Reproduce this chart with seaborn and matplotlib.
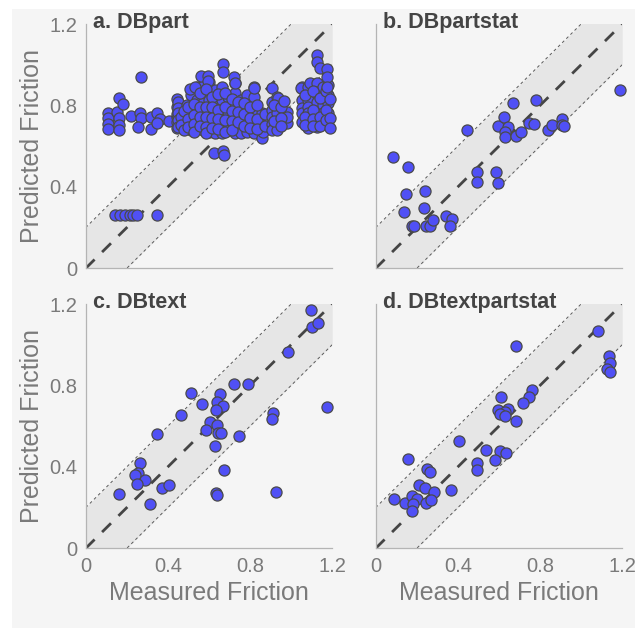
import numpy as np
import pandas as pd
import matplotlib
matplotlib.use("Agg")
import matplotlib.pyplot as plt
import seaborn as sns
from matplotlib.patches import Rectangle

# ---- panel a: DBpart (measured, predicted)
part_measured = [
    0.143, 0.167, 0.192, 0.216, 0.232, 0.252, 0.346,
    0.110, 0.110, 0.110, 0.110, 0.151, 0.164, 0.164, 0.164, 0.164, 0.183,
    0.221, 0.264, 0.267, 0.253, 0.268, 0.318, 0.318, 0.346, 0.362, 0.346, 0.407,
    0.446, 0.446, 0.446, 0.446, 0.446, 0.446,
    0.451, 0.451, 0.451, 0.451, 0.451,
    0.492, 0.492, 0.492,
    0.512, 0.512, 0.512, 0.512,
    0.540, 0.540, 0.540, 0.540, 0.540,
    0.573, 0.573, 0.573, 0.573, 0.573, 0.573,
    0.602, 0.602, 0.602, 0.602, 0.602, 0.602,
    0.630, 0.630, 0.630, 0.630, 0.630,
    0.662, 0.662, 0.662, 0.662, 0.662,
    0.695, 0.695, 0.695, 0.695, 0.695, 0.695,
    0.727, 0.727, 0.727, 0.727, 0.727, 0.727,
    0.755, 0.755, 0.755, 0.755, 0.755,
    0.784, 0.784, 0.784, 0.784,
    0.821, 0.821, 0.821, 0.821, 0.821,
    0.857, 0.857, 0.857, 0.862,
    0.627, 0.670, 0.674,
    0.670, 0.667, 0.562, 0.597, 0.597, 0.724, 0.727, 0.508, 0.532, 0.817,
    0.465, 0.465, 0.478, 0.478, 0.500, 0.500, 0.500,
    0.525, 0.525, 0.525, 0.525, 0.555, 0.555, 0.555, 0.555,
    0.588, 0.588, 0.588, 0.588, 0.588, 0.615, 0.615, 0.615, 0.615,
    0.645, 0.645, 0.645, 0.645, 0.680, 0.680, 0.680, 0.680,
    0.712, 0.712, 0.712, 0.712, 0.740, 0.740, 0.740,
    0.770, 0.770, 0.770, 0.800, 0.800, 0.800,
    0.835, 0.835, 0.835, 0.875, 0.875,
    0.906, 0.906, 0.906, 0.906, 0.906, 0.906,
    0.929, 0.929, 0.929, 0.929, 0.929, 0.938,
    0.979, 0.979, 0.979,
    0.915, 0.915, 0.950, 0.950, 0.950, 0.965,
    1.052, 1.052, 1.052, 1.052, 1.052, 1.047,
    1.084, 1.084, 1.084, 1.084, 1.084, 1.084, 1.093,
    1.125, 1.125, 1.125, 1.125, 1.125, 1.125, 1.128,
    1.157, 1.157, 1.157, 1.157, 1.157,
    1.181, 1.181, 1.181, 1.181, 1.181,
    1.068, 1.068, 1.068, 1.105, 1.105, 1.105, 1.105,
    1.140, 1.140, 1.140, 1.170, 1.170, 1.170, 1.190, 1.190, 1.190,
    1.128, 1.128, 1.141, 1.174, 1.177, 1.177,
]
part_predicted = [
    0.262, 0.262, 0.262, 0.262, 0.262, 0.262, 0.262,
    0.764, 0.737, 0.709, 0.685, 0.769, 0.835, 0.737, 0.704, 0.680, 0.806,
    0.750, 0.761, 0.737, 0.696, 0.941, 0.742, 0.683, 0.761, 0.732, 0.716, 0.723,
    0.830, 0.794, 0.745, 0.687, 0.760, 0.720,
    0.818, 0.786, 0.761, 0.728, 0.695,
    0.802, 0.753, 0.720,
    0.851, 0.761, 0.712, 0.679,
    0.889, 0.827, 0.777, 0.737, 0.688,
    0.897, 0.851, 0.810, 0.769, 0.728, 0.679,
    0.917, 0.860, 0.827, 0.769, 0.720, 0.671,
    0.876, 0.802, 0.761, 0.712, 0.663,
    0.892, 0.827, 0.761, 0.704, 0.663,
    0.843, 0.794, 0.745, 0.712, 0.680, 0.766,
    0.909, 0.860, 0.802, 0.745, 0.696, 0.663,
    0.827, 0.777, 0.737, 0.696, 0.667,
    0.851, 0.794, 0.720, 0.671,
    0.892, 0.843, 0.769, 0.712, 0.663,
    0.761, 0.704, 0.639, 0.671,
    0.565, 0.578, 0.556,
    1.002, 0.962, 0.946, 0.946, 0.920, 0.941, 0.908, 0.881, 0.892, 0.887,
    0.745, 0.705, 0.775, 0.680, 0.735, 0.790, 0.695,
    0.805, 0.755, 0.710, 0.670, 0.860, 0.790, 0.745, 0.700,
    0.880, 0.790, 0.745, 0.695, 0.665, 0.840, 0.790, 0.740, 0.690,
    0.855, 0.780, 0.735, 0.685, 0.860, 0.790, 0.730, 0.670,
    0.830, 0.775, 0.725, 0.680, 0.815, 0.770, 0.720,
    0.810, 0.760, 0.700, 0.790, 0.740, 0.690,
    0.800, 0.735, 0.685, 0.760, 0.700,
    0.887, 0.818, 0.780, 0.745, 0.710, 0.680,
    0.843, 0.802, 0.761, 0.720, 0.679, 0.835,
    0.769, 0.712, 0.745,
    0.800, 0.725, 0.790, 0.740, 0.700, 0.820,
    0.892, 0.827, 0.786, 0.761, 0.720, 0.887,
    0.892, 0.827, 0.794, 0.761, 0.720, 0.688, 0.912,
    0.909, 0.860, 0.818, 0.769, 0.728, 0.696, 0.867,
    0.892, 0.843, 0.802, 0.761, 0.712,
    0.900, 0.851, 0.810, 0.761, 0.704,
    0.850, 0.745, 0.705, 0.870, 0.780, 0.735, 0.700,
    0.835, 0.745, 0.700, 0.870, 0.780, 0.730, 0.830, 0.740, 0.690,
    1.047, 1.015, 0.985, 0.979, 0.941, 0.892,
]

# ---- panel b: DBpartstat
partstat_measured = [
    0.083, 0.159, 0.146, 0.240, 0.140, 0.235, 0.175, 0.188, 0.244, 0.266,
    0.281, 0.343, 0.370, 0.364, 0.445, 0.492, 0.495, 0.586, 0.594, 0.593,
    0.627, 0.643, 0.630, 0.628, 0.666, 0.682, 0.705, 0.744, 0.773, 0.782,
    0.841, 0.857, 0.906, 0.909, 0.919, 1.187,
]
partstat_predicted = [
    0.545, 0.496, 0.367, 0.380, 0.275, 0.298, 0.209, 0.209, 0.209, 0.209,
    0.236, 0.255, 0.244, 0.209, 0.678, 0.475, 0.424, 0.475, 0.421, 0.699,
    0.743, 0.692, 0.671, 0.643, 0.812, 0.650, 0.671, 0.715, 0.710, 0.825,
    0.678, 0.704, 0.735, 0.704, 0.699, 0.876,
]

# ---- panel c: DBtext
text_measured = [
    1.096, 1.104, 1.130, 0.984, 0.511, 0.724, 0.789, 0.656, 0.568, 0.640,
    0.669, 0.633, 0.464, 0.606, 0.638, 0.588, 0.644, 0.661, 0.747, 0.630,
    0.346, 0.914, 0.907, 1.174, 0.265, 0.255, 0.240, 0.287, 0.248, 0.164,
    0.370, 0.406, 0.315, 0.675, 0.632, 0.641, 0.924,
]
text_predicted = [
    1.169, 1.087, 1.108, 0.962, 0.761, 0.809, 0.809, 0.758, 0.710, 0.717,
    0.700, 0.679, 0.655, 0.620, 0.604, 0.579, 0.566, 0.568, 0.552, 0.501,
    0.563, 0.663, 0.633, 0.694, 0.421, 0.368, 0.360, 0.336, 0.316, 0.267,
    0.295, 0.309, 0.216, 0.383, 0.272, 0.264, 0.278,
]

# ---- panel d: DBtextpartstat
textpartstat_measured = [
    1.080, 0.683, 1.136, 1.141, 1.127, 1.143, 0.760, 0.744, 0.719, 0.610,
    0.597, 0.646, 0.630, 0.606, 0.628, 0.685, 0.406, 0.537, 0.607, 0.636,
    0.581, 0.495, 0.492, 0.159, 0.250, 0.266, 0.211, 0.239, 0.286, 0.365,
    0.091, 0.141, 0.175, 0.200, 0.182, 0.175, 0.245, 0.268,
]
textpartstat_predicted = [
    1.065, 0.995, 0.944, 0.908, 0.879, 0.864, 0.776, 0.743, 0.714, 0.741,
    0.679, 0.682, 0.671, 0.658, 0.651, 0.627, 0.527, 0.483, 0.478, 0.466,
    0.434, 0.421, 0.383, 0.439, 0.390, 0.376, 0.311, 0.295, 0.277, 0.288,
    0.241, 0.224, 0.257, 0.244, 0.218, 0.183, 0.224, 0.237,
]

panel_titles = ["a. DBpart", "b. DBpartstat", "c. DBtext", "d. DBtextpartstat"]
tick_values = [0, 0.4, 0.8, 1.2]
tick_labels = ["0", "0.4", "0.8", "1.2"]
band_halfwidth = 0.2

sns.set_theme(style="white")
plt.rcParams["font.family"] = ["Liberation Sans", "DejaVu Sans"]

W, H = 635, 628
fig = plt.figure(figsize=(W / 100, H / 100), dpi=100)
fig.patch.set_facecolor("white")
bg = "#f5f5f5"
fig.add_artist(Rectangle((12 / W, 0), 1 - 12 / W, 1 - 9 / H, transform=fig.transFigure,
                         facecolor=bg, edgecolor="none", zorder=-10))

panels = [
    (part_measured, part_predicted),
    (partstat_measured, partstat_predicted),
    (text_measured, text_predicted),
    (textpartstat_measured, textpartstat_predicted),
]

ax_w, ax_h = 246.5 / W, 244.3 / H
lefts = [85.7 / W, 375.7 / W]
bottoms = [1 - 268.3 / H, 1 - 548.3 / H]

spine_col = "#b4b4b4"
label_col = "#7a7a7a"
for i, ((meas, pred), title) in enumerate(zip(panels, panel_titles)):
    row, col = divmod(i, 2)
    ax = fig.add_axes([lefts[col], bottoms[row], ax_w, ax_h])
    ax.set_facecolor(bg)
    ax.patch.set_alpha(0)

    xs = np.linspace(0, 1.2, 50)
    ax.fill_between(xs, xs - band_halfwidth, xs + band_halfwidth,
                    color="#e6e6e6", lw=0, zorder=1)
    ax.plot(xs, xs + band_halfwidth, ls=(0, (3, 3)), color="#5a5a5a", lw=0.7, zorder=2)
    ax.plot(xs, xs - band_halfwidth, ls=(0, (3, 3)), color="#5a5a5a", lw=0.7, zorder=2)
    ax.plot(xs, xs, ls=(0, (4.5, 3.8)), color="#454545", lw=2.0, zorder=2)

    df = pd.DataFrame({"Measured Friction": meas, "Predicted Friction": pred})
    sns.scatterplot(data=df, x="Measured Friction", y="Predicted Friction", ax=ax,
                    color="#5050f5", edgecolor="#4a4a4a", linewidth=0.9, s=64,
                    zorder=3, clip_on=False)

    ax.set_xlim(0, 1.2)
    ax.set_ylim(0, 1.2)
    ax.set_xticks(tick_values)
    ax.set_yticks(tick_values)
    for side in ["top", "right"]:
        ax.spines[side].set_visible(False)
    for side in ["left", "bottom"]:
        ax.spines[side].set_color(spine_col)
        ax.spines[side].set_linewidth(0.9)
    ax.tick_params(direction="in", length=3, width=0.8, color=spine_col,
                   labelsize=14.5, labelcolor=label_col, pad=6)

    if row == 1:
        ax.set_xticklabels(tick_labels)
        ax.set_xlabel("Measured Friction", fontsize=18, color=label_col, labelpad=4)
    else:
        ax.set_xticklabels([])
        ax.set_xlabel("")
    if col == 0:
        ax.set_yticklabels(tick_labels)
        ax.set_ylabel("Predicted Friction", fontsize=18, color=label_col, labelpad=4)
    else:
        ax.set_yticklabels([])
        ax.set_ylabel("")

    ax.text(0.035, 1.178, title, fontsize=15.5, fontweight="bold", color="#444444",
            ha="left", va="baseline", zorder=5)

fig.savefig("out.png", dpi=100, facecolor=fig.get_facecolor())
